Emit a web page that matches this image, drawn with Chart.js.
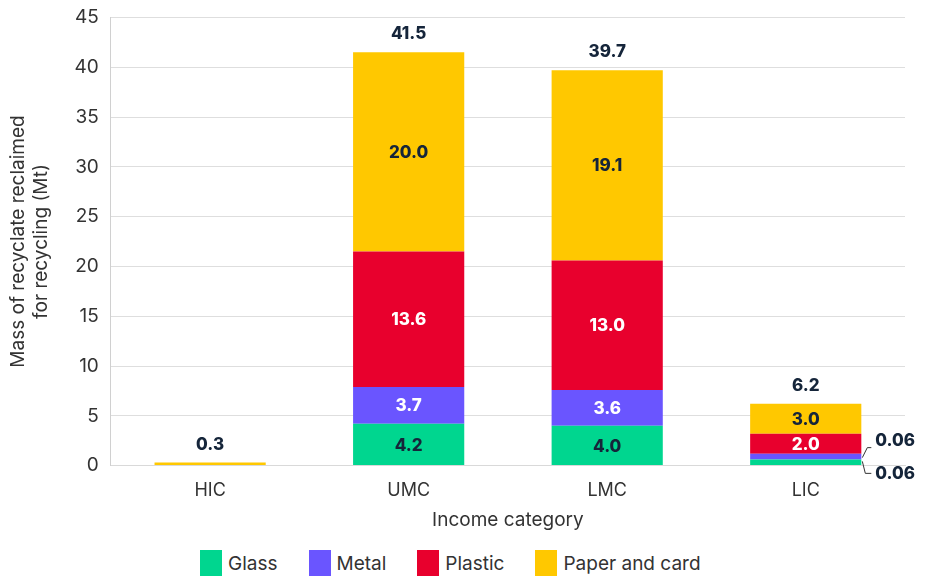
<!DOCTYPE html>
<html>
<head>
<meta charset="utf-8">
<script src="https://cdn.jsdelivr.net/npm/chart.js@4/dist/chart.umd.min.js"></script>
<style>
  html, body { margin: 0; padding: 0; background: #fff; overflow: hidden; }
  #wrap { width: 935px; height: 546px; margin-top: -6px; }
  #legend {
    display: flex; justify-content: flex-start; align-items: center;
    height: 36px; padding-left: 200px; box-sizing: border-box;
    font-family: Inter, "Noto Sans", sans-serif; font-size: 19px; color: #333;
  }
  #legend .item { display: flex; align-items: center; margin-right: 31px; margin-top: 10px; }
  #legend .box { width: 22px; height: 26px; margin-right: 6px; }
</style>
</head>
<body>
<div id="wrap"><canvas id="chart"></canvas></div>
<div id="legend"></div>
<script>
// Data
const categories = ['HIC', 'UMC', 'LMC', 'LIC'];
const glass   = [0,   4.2,  4.0,  0.6];
const metal   = [0,   3.7,  3.6,  0.6];
const plastic = [0,  13.6, 13.0,  2.0];
const paper   = [0.3, 20.0, 19.1, 3.0];

// Printed labels (as shown in the source, including the small LIC ones)
const glassLabels   = ['', '4.2', '4.0', '0.06'];
const metalLabels   = ['', '3.7', '3.6', '0.06'];
const plasticLabels = ['', '13.6', '13.0', '2.0'];
const paperLabels   = ['', '20.0', '19.1', '3.0'];
const totalLabels   = ['0.3', '41.5', '39.7', '6.2'];

const yTicks = [0, 5, 10, 15, 20, 25, 30, 35, 40, 45];

const DARK = '#15253a';
const FONT = 'Inter, "Noto Sans", sans-serif';

// labels drawn next to the bar with a small bracket instead of inside it
const outsideLabels = { 'LIC': true };

const barLabels = {
    id: 'barLabels',
    afterDatasetsDraw(chart) {
        const ctx = chart.ctx;
        ctx.save();
        ctx.font = '800 17px ' + FONT;
        ctx.textAlign = 'center';
        ctx.textBaseline = 'middle';

        chart.data.datasets.forEach((ds, di) => {
            const meta = chart.getDatasetMeta(di);
            meta.data.forEach((bar, i) => {
                const text = ds.segLabels[i];
                if (!text) return;
                const cy = (bar.y + bar.base) / 2;
                if (outsideLabels[categories[i]] && (di === 0 || di === 1)) {
                    // bracket callout on the right of the bar
                    const x0 = bar.x + bar.width / 2 + 1;
                    ctx.strokeStyle = '#333';
                    ctx.lineWidth = 1;
                    ctx.beginPath();
                    if (di === 1) {
                        ctx.moveTo(x0, cy + 1);
                        ctx.lineTo(x0 + 5, cy - 9);
                        ctx.lineTo(x0 + 9, cy - 9);
                    } else {
                        ctx.moveTo(x0, cy - 1);
                        ctx.lineTo(x0 + 3, cy + 11);
                        ctx.lineTo(x0 + 9, cy + 11);
                    }
                    ctx.stroke();
                    ctx.fillStyle = DARK;
                    ctx.textAlign = 'left';
                    ctx.fillText(text, x0 + 13, di === 1 ? cy - 16 : cy + 12);
                    ctx.textAlign = 'center';
                    return;
                }
                ctx.fillStyle = ds.labelColor;
                ctx.fillText(text, bar.x, cy + 1);
            });
        });

        // totals above the stacks
        const topMeta = chart.getDatasetMeta(chart.data.datasets.length - 1);
        ctx.fillStyle = DARK;
        topMeta.data.forEach((bar, i) => {
            ctx.fillText(totalLabels[i], bar.x, bar.y - 18);
        });
        ctx.restore();
    }
};

const chart = new Chart(document.getElementById('chart'), {
    type: 'bar',
    data: {
        labels: categories,
        datasets: [
            { label: 'Glass', data: glass, backgroundColor: '#00d68f', segLabels: glassLabels, labelColor: DARK },
            { label: 'Metal', data: metal, backgroundColor: '#6a55ff', segLabels: metalLabels, labelColor: '#ffffff' },
            { label: 'Plastic', data: plastic, backgroundColor: '#e8002d', segLabels: plasticLabels, labelColor: '#ffffff' },
            { label: 'Paper and card', data: paper, backgroundColor: '#ffc800', segLabels: paperLabels, labelColor: DARK }
        ]
    },
    options: {
        responsive: true,
        maintainAspectRatio: false,
        animation: false,
        layout: { padding: { top: 0, right: 30, left: 3, bottom: 8 } },
        datasets: {
            bar: { categoryPercentage: 1, barPercentage: 0.56, borderWidth: 0 }
        },
        scales: {
            x: {
                stacked: true,
                grid: { display: false },
                border: { color: '#d9d9d9' },
                ticks: { color: '#333', font: { family: FONT, size: 18 }, padding: 6 },
                title: { display: true, text: 'Income category', color: '#333', font: { family: FONT, size: 19 }, padding: { top: 2, bottom: 0 } }
            },
            y: {
                stacked: true,
                min: 0,
                max: 45,
                afterBuildTicks: axis => { axis.ticks = yTicks.map(v => ({ value: v })); },
                grid: { color: '#dedede', drawTicks: false },
                border: { color: '#d0d0d0' },
                ticks: { color: '#333', font: { family: FONT, size: 19 }, padding: 12 },
                title: {
                    display: true,
                    text: ['Mass of recyclate reclaimed', 'for recycling (Mt)'],
                    color: '#333',
                    font: { family: FONT, size: 19, lineHeight: 1.2 },
                    padding: { bottom: 10 }
                }
            }
        },
        plugins: {
            legend: { display: false },
            tooltip: { enabled: false }
        }
    },
    plugins: [barLabels]
});

// HTML legend built from the chart's datasets
const legendEl = document.getElementById('legend');
chart.data.datasets.forEach(ds => {
    const item = document.createElement('div');
    item.className = 'item';
    const box = document.createElement('span');
    box.className = 'box';
    box.style.background = ds.backgroundColor;
    const txt = document.createElement('span');
    txt.textContent = ds.label;
    item.appendChild(box);
    item.appendChild(txt);
    legendEl.appendChild(item);
});
</script>
</body>
</html>
